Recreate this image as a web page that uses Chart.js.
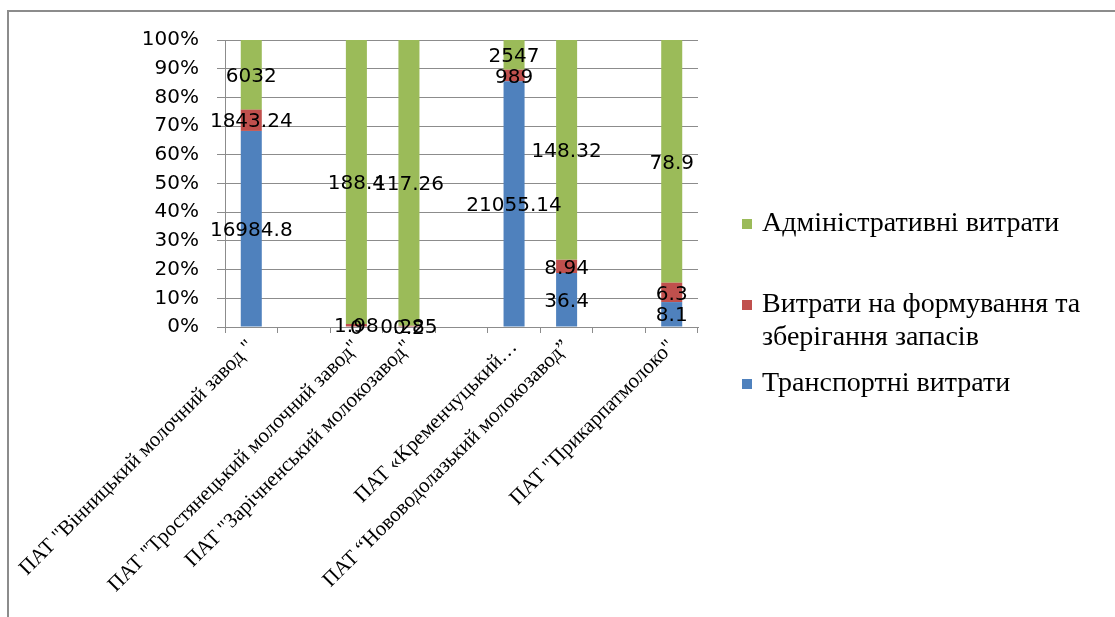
<!DOCTYPE html>
<html lang="uk">
  <head>
    <meta charset="UTF-8" />
    <title>Структура витрат</title>
    <script src="https://cdn.jsdelivr.net/npm/chart.js@4.4.1/dist/chart.umd.min.js"></script>
    <style>
      body { margin: 0; background: #fff; }
      .wrap { position: relative; width: 1115px; height: 617px; }
      .frame {
        position: absolute; left: 7px; top: 10px; right: 0; bottom: 0;
        border-left: 2px solid #8c8c8c; border-top: 2px solid #8c8c8c;
      }
      canvas { position: absolute; left: 0; top: 0; }
    </style>
  </head>
  <body>
    <div class="wrap">
      <div class="frame"></div>
      <canvas id="costChart" width="1115" height="617"></canvas>
    </div>
  </body>
  <script>
    // companies (empty slots are blank categories in the original sheet)
    const categories = [
      'ПАТ "Вінницький молочний завод "',
      "",
      'ПАТ "Тростянецький молочний завод"',
      'ПАТ "Зарічненський молокозавод"',
      "",
      "ПАТ «Кременчуцький…",
      "ПАТ “Нововодолазький молокозавод”",
      "",
      'ПАТ "Прикарпатмолоко"',
    ];
    const transport = [16984.8, null, 0, 0.2, null, 21055.14, 36.4, null, 8.1];
    const storage = [1843.24, null, 1.98, 0.285, null, 989, 8.94, null, 6.3];
    const admin = [6032, null, 188.4, 117.26, null, 2547, 148.32, null, 78.9];
    const yTicks = [0, 10, 20, 30, 40, 50, 60, 70, 80, 90, 100];

    // 100% stacked: convert each series to share of the column total
    function share(series) {
      return series.map((v, i) => {
        if (v === null) return null;
        const total = transport[i] + storage[i] + admin[i];
        return (v / total) * 100;
      });
    }

    // value labels in the middle of each segment (raw values, not %)
    const valueLabels = {
      id: "valueLabels",
      afterDatasetsDraw(chart) {
        const ctx = chart.ctx;
        ctx.save();
        ctx.font = '20px "DejaVu Sans"';
        ctx.fillStyle = "#000";
        ctx.textAlign = "center";
        ctx.textBaseline = "middle";
        chart.data.datasets.forEach((ds, di) => {
          const meta = chart.getDatasetMeta(di);
          meta.data.forEach((bar, i) => {
            const raw = ds.raw[i];
            if (raw === null) return;
            ctx.fillText(String(raw), bar.x, (bar.y + bar.base) / 2 + 2);
          });
        });
        ctx.restore();
      },
    };

    // legend drawn by hand: Excel-style, reversed, with a wrapped label
    const sideLegend = {
      id: "sideLegend",
      afterDraw(chart) {
        const ctx = chart.ctx;
        const rows = [384, 305, 224];
        ctx.save();
        ctx.font = '28px "Liberation Serif"';
        ctx.textBaseline = "middle";
        chart.data.datasets.forEach((ds, di) => {
          const y = rows[di];
          ctx.fillStyle = ds.backgroundColor;
          ctx.fillRect(742, y - 5, 10, 10);
          ctx.fillStyle = "#000";
          ds.label.split("\n").forEach((line, li) => {
            ctx.fillText(line, 762, y + li * 33);
          });
        });
        ctx.restore();
      },
    };

    const ctx = document.getElementById("costChart").getContext("2d");
    const costChart = new Chart(ctx, {
      type: "bar",
      data: {
        labels: categories,
        datasets: [
          {
            label: "Транспортні витрати",
            data: share(transport),
            raw: transport,
            backgroundColor: "#4F81BD",
          },
          {
            label: "Витрати на формування та\nзберігання запасів",
            data: share(storage),
            raw: storage,
            backgroundColor: "#C0504D",
          },
          {
            label: "Адміністративні витрати",
            data: share(admin),
            raw: admin,
            backgroundColor: "#9BBB59",
          },
        ],
      },
      options: {
        responsive: false,
        animation: false,
        barPercentage: 0.8,
        categoryPercentage: 0.5,
        layout: {padding: {top: 40, right: 417, left: 0, bottom: 0}},
        plugins: {legend: {display: false}, tooltip: {enabled: false}},
        scales: {
          x: {
            stacked: true,
            border: {color: "#8c8c8c", width: 1},
            grid: {drawOnChartArea: false, color: "#8c8c8c", tickLength: 6, offset: true},
            ticks: {
              autoSkip: false,
              maxRotation: 45,
              minRotation: 45,
              padding: 2,
              color: "#000",
              font: {family: "Liberation Serif", size: 21},
            },
            afterFit(scale) { scale.height = 617 - 327; },
          },
          y: {
            stacked: true,
            min: 0,
            max: 100,
            border: {color: "#8c8c8c", width: 1},
            grid: {color: "#8c8c8c", tickLength: 8},
            afterBuildTicks(scale) { scale.ticks = yTicks.map((v) => ({value: v})); },
            ticks: {
              padding: 18,
              color: "#000",
              font: {family: "DejaVu Sans", size: 20},
              callback: (v) => v + "%",
            },
            afterFit(scale) { scale.width = 225; },
          },
        },
      },
      plugins: [valueLabels, sideLegend],
    });
  </script>
</html>
